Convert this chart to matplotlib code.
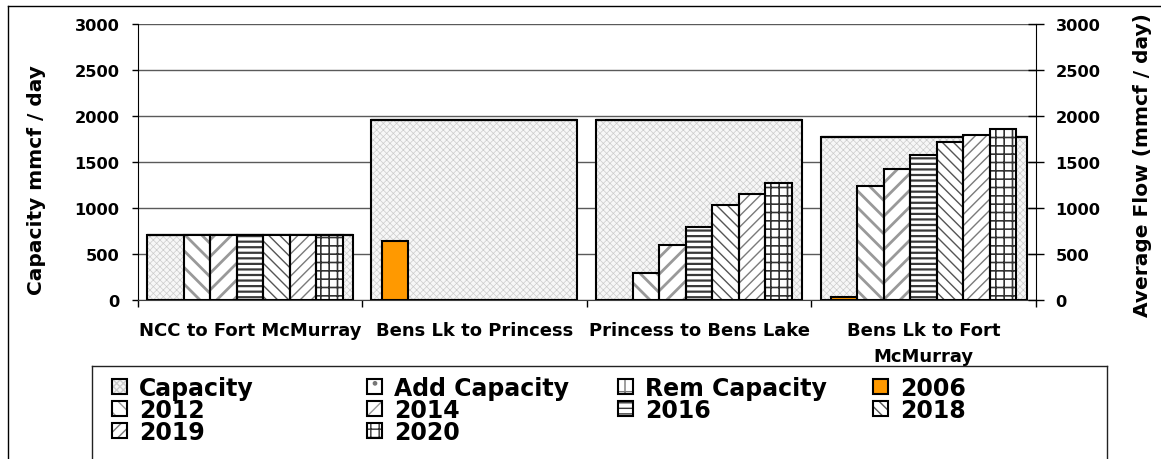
import matplotlib
matplotlib.use("Agg")
import matplotlib.pyplot as plt
import numpy as np
from matplotlib.legend_handler import HandlerTuple
from matplotlib.lines import Line2D

# ---------------- data ----------------
categories = ["NCC to Fort McMurray", "Bens Lk to Princess",
              "Princess to Bens Lake", "Bens Lk to Fort\nMcMurray"]
capacity = [700, 1950, 1950, 1765]
add_capacity = [0, 0, 0, 0]
rem_capacity = [0, 0, 0, 0]
flow_years = ["2006", "2012", "2014", "2016", "2018", "2019", "2020"]
flow_2006 = [0, 635, 0, 25]
flow_2012 = [700, 0, 287, 1240]
flow_2014 = [700, 0, 595, 1420]
flow_2016 = [700, 0, 793, 1576]
flow_2018 = [700, 0, 1030, 1717]
flow_2019 = [700, 0, 1146, 1790]
flow_2020 = [700, 0, 1268, 1855]
flows = [flow_2006, flow_2012, flow_2014, flow_2016, flow_2018, flow_2019, flow_2020]
yticks = [0, 500, 1000, 1500, 2000, 2500, 3000]

# ---------------- style ----------------
W, H = 1161, 460
plt.rcParams["font.family"] = ["DejaVu Sans"]
plt.rcParams["font.weight"] = "bold"
fig = plt.figure(figsize=(W / 100, H / 100), dpi=100)

L, R, T, B = 137.5, 1036, 24.7, 300.7
ax = fig.add_axes([L / W, 1 - B / H, (R - L) / W, (B - T) / H])
ax2 = ax.twinx()

x = np.arange(len(categories))
cap_w = 0.917
bw = 0.118


def hatched_bar(axis, xs, heights, width, hatch, hcolor, hlw, face="white", bottom=None):
    with plt.rc_context({"hatch.linewidth": hlw}):
        bars = axis.bar(xs, heights, width, bottom=bottom, facecolor=face,
                        edgecolor=hcolor, hatch=hatch, linewidth=0, zorder=2)
        for p in bars:
            if hasattr(p, "set_hatch_linewidth"):
                p.set_hatch_linewidth(hlw)
    outline = axis.bar(xs, heights, width, bottom=bottom, fill=False,
                       edgecolor="black", linewidth=1.5, zorder=3)
    return bars[0], outline[0]


handles = {}
handles["Capacity"] = hatched_bar(ax, x, capacity, cap_w, "xxxxx", "#cccccc", 0.5, face="#f7f7f7")
handles["Add Capacity"] = hatched_bar(ax, x, add_capacity, cap_w, ".", "#777777", 1.0,
                                      bottom=capacity)
handles["Rem Capacity"] = hatched_bar(ax, x, rem_capacity, cap_w, "+", "#777777", 1.0,
                                      bottom=np.add(capacity, add_capacity))

styles = {
    "2012": ("\\\\", "#999999", 2.0),
    "2014": ("//", "#999999", 2.0),
    "2016": ("---", "#3a3a3a", 1.6),
    "2018": ("\\\\\\", "#555555", 1.0),
    "2019": ("///", "#7a7a7a", 1.0),
    "2020": ("++", "#333333", 1.2),
}
n = len(flow_years)
for i, (yr, vals) in enumerate(zip(flow_years, flows)):
    xs = x + (i - (n - 1) / 2) * bw
    if yr == "2006":
        b = ax2.bar(xs, vals, bw, color="#FF9900", edgecolor="black", linewidth=1.5, zorder=3)
        handles[yr] = (b[0],)
    else:
        h, c, lw = styles[yr]
        handles[yr] = hatched_bar(ax2, xs, vals, bw, h, c, lw)

for a in (ax, ax2):
    a.set_ylim(0, 3000)
    a.set_xlim(-0.5, 3.5)
    a.set_yticks(yticks)
    for s in a.spines.values():
        s.set_visible(False)

ax.set_axisbelow(True)
ax.yaxis.grid(True, color="#5a5a5a", linewidth=1)
ax.spines["left"].set_visible(True)
ax.spines["left"].set_color("black")
ax2.spines["right"].set_visible(True)
ax2.spines["right"].set_color("black")
ax.spines["bottom"].set_visible(True)
ax.spines["bottom"].set_color("#404040")

ax.tick_params(axis="y", direction="out", length=4, width=1, labelsize=11.7, pad=9)
ax2.tick_params(axis="y", direction="inout", length=12, width=1, labelsize=11.7, pad=8)
for lab in ax.get_yticklabels() + ax2.get_yticklabels():
    lab.set_fontweight("bold")

ax.set_xticks(x)
ax.set_xticklabels(categories, fontsize=13, fontweight="bold", linespacing=1.6)
ax.tick_params(axis="x", which="major", length=0, pad=15)
ax.set_xticks(np.arange(-0.5, 4.0, 1.0), minor=True)
ax.tick_params(axis="x", which="minor", direction="out", length=5, width=1)

ax.set_ylabel("Capacity mmcf / day", fontsize=14.5, fontweight="bold")
ax.yaxis.set_label_coords((46 - L) / (R - L), (B - 180) / (B - T))
ax2.set_ylabel("Average Flow (mmcf / day)", fontsize=14.5, fontweight="bold")
ax2.yaxis.set_label_coords((1133 - L) / (R - L), (B - 165) / (B - T))

# ---------------- legend (row-wise order in 4 columns) ----------------
cols = [["Capacity", "2012", "2019"],
        ["Add Capacity", "2014", "2020"],
        ["Rem Capacity", "2016"],
        ["2006", "2018"]]
col_x = [112, 367, 618, 873]
for labels, cx in zip(cols, col_x):
    leg = fig.legend([handles[l] for l in labels], labels,
                     handler_map={tuple: HandlerTuple(ndivide=1)},
                     loc="upper left", bbox_to_anchor=(cx / W, 1 - 377 / H),
                     frameon=False, prop={"weight": "bold", "size": 17},
                     handlelength=0.65, handleheight=0.6, handletextpad=0.5,
                     labelspacing=-0.08, borderpad=0, borderaxespad=0)

# legend frame and chart border
lc = "#222222"
fig.add_artist(Line2D([92 / W, 92 / W], [0, 1 - 367 / H], color=lc, lw=1))
fig.add_artist(Line2D([1107 / W, 1107 / W], [0, 1 - 367 / H], color=lc, lw=1))
fig.add_artist(Line2D([92 / W, 1107 / W], [1 - 367 / H, 1 - 367 / H], color=lc, lw=1))
fig.add_artist(Line2D([8 / W, 8 / W], [0, 1 - 7 / H], color="black", lw=1))
fig.add_artist(Line2D([8 / W, 1], [1 - 7 / H, 1 - 7 / H], color="black", lw=1))

fig.savefig("out.png", dpi=100)
